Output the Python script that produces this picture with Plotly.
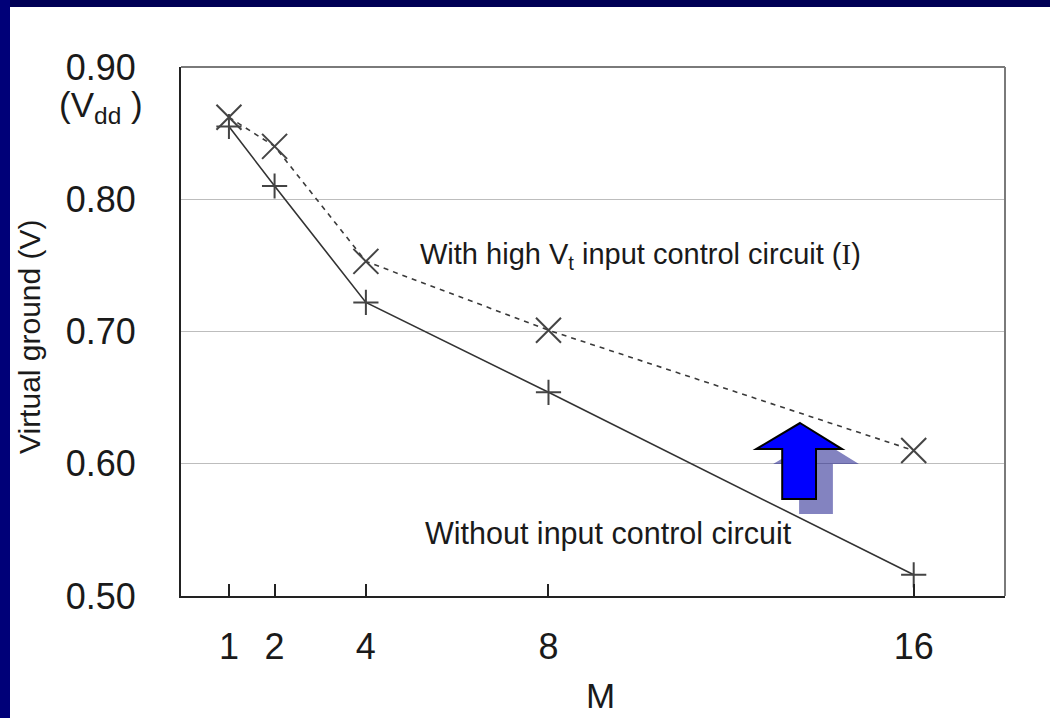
import plotly.graph_objects as go

# ---- data ----
m_values = [1, 2, 4, 8, 16]
without_ctrl = [0.855, 0.810, 0.722, 0.654, 0.516]
with_ctrl = [0.862, 0.840, 0.753, 0.701, 0.610]
x_tick_vals = [1, 2, 4, 8, 16]
x_tick_text = ["1", "2", "4", "8", "16"]
y_tick_vals = [0.5, 0.6, 0.7, 0.8, 0.9]
y_tick_text = ["0.50", "0.60", "0.70", "0.80", "0.90"]

W, H = 1050, 718
ML, MR, MT, MB = 181, 45, 67, 122
PW, PH = W - ML - MR, H - MT - MB


def px(xp):
    return (xp - ML) / PW


def py(yp):
    return (H - MB - yp) / PH


fig = go.Figure()

fig.add_trace(go.Scatter(
    x=m_values, y=with_ctrl, mode="lines+markers",
    line=dict(color="#3a3a3a", width=1.6, dash="5px,5px"),
    marker=dict(symbol="x-thin", size=25, line=dict(color="#444444", width=2)),
    showlegend=False, hoverinfo="skip"))
fig.add_trace(go.Scatter(
    x=m_values, y=without_ctrl, mode="lines+markers",
    line=dict(color="#333333", width=1.6),
    marker=dict(symbol="cross-thin", size=18, line=dict(color="#444444", width=2)),
    showlegend=False, hoverinfo="skip"))

font_main = "Arial, Liberation Sans, sans-serif"

fig.update_layout(
    width=W, height=H,
    margin=dict(l=ML, r=MR, t=MT, b=MB, pad=0),
    paper_bgcolor="white", plot_bgcolor="white",
    font=dict(family=font_main, color="#1a1a1a"),
    xaxis=dict(range=[-0.05, 18.0], tickvals=x_tick_vals, ticktext=x_tick_text,
               ticks="inside", ticklen=12, tickwidth=2, tickcolor="#222",
               showline=True, linecolor="#222", linewidth=2, mirror=False,
               showgrid=False, zeroline=False,
               tickfont=dict(size=36, family=font_main, color="#1a1a1a"),
               ticklabelstandoff=18),
    yaxis=dict(range=[0.5, 0.9], tickvals=y_tick_vals, ticktext=y_tick_text,
               ticks="", showline=True, linecolor="#222", linewidth=2, mirror=False,
               showgrid=True, gridcolor="#bdbdbd", gridwidth=1.2, zeroline=False,
               tickfont=dict(size=36, family=font_main, color="#1a1a1a"),
               ticklabelstandoff=36),
)

shapes = []
# navy slide borders
shapes.append(dict(type="rect", xref="paper", yref="paper",
                   x0=px(0), x1=px(W), y0=py(7), y1=py(0),
                   fillcolor="#000055", line=dict(width=0), layer="above"))
shapes.append(dict(type="rect", xref="paper", yref="paper",
                   x0=px(0), x1=px(10), y0=py(H), y1=py(0),
                   fillcolor="#000078", line=dict(width=0), layer="above"))
# top / right frame in gray
shapes.append(dict(type="line", xref="paper", yref="paper", x0=0, x1=1, y0=1, y1=1,
                   line=dict(color="#7a7a7a", width=2), layer="above"))
shapes.append(dict(type="line", xref="paper", yref="paper", x0=1, x1=1, y0=0, y1=1,
                   line=dict(color="#7a7a7a", width=2), layer="above"))

# up arrow (decoration) in data coordinates
tip_x, tip_y = 13.51, 0.6308
head_l, head_r, head_y = 12.55, 14.43, 0.6111
shaft_l, shaft_r, shaft_y = 13.12, 13.86, 0.5733
sdx, sdy = 0.37, -0.0113


def arrow_path(dx, dy):
    pts = [(tip_x, tip_y), (head_r, head_y), (shaft_r, head_y), (shaft_r, shaft_y),
           (shaft_l, shaft_y), (shaft_l, head_y), (head_l, head_y)]
    return "M " + " L ".join(f"{x + dx},{y + dy}" for x, y in pts) + " Z"


shapes.append(dict(type="path", xref="x", yref="y", path=arrow_path(sdx, sdy),
                   fillcolor="rgba(30,30,140,0.55)", line=dict(width=0), layer="above"))
shapes.append(dict(type="path", xref="x", yref="y", path=arrow_path(0, 0),
                   fillcolor="#0000ff", line=dict(color="black", width=2), layer="above"))
fig.update_layout(shapes=shapes)

fig.add_annotation(x=5.14, y=0.757, xref="x", yref="y", xanchor="left", yanchor="middle",
                   text="With high V<sub>t</sub> input control circuit "
                        "(<span style='font-family:Times New Roman, Liberation Serif, serif'>I</span>)",
                   showarrow=False, font=dict(size=29, family=font_main, color="#1a1a1a"))
fig.add_annotation(x=5.25, y=0.5476, xref="x", yref="y", xanchor="left", yanchor="middle",
                   text="Without input control circuit", showarrow=False,
                   font=dict(size=30.5, family=font_main, color="#1a1a1a"))
fig.add_annotation(x=px(145), y=py(107), xref="paper", yref="paper", xanchor="right",
                   yanchor="middle", text="(V<sub>dd</sub> )", showarrow=False,
                   font=dict(size=35, family=font_main, color="#1a1a1a"))
fig.add_annotation(x=px(29), y=py(337), xref="paper", yref="paper", xanchor="center",
                   yanchor="middle", text="Virtual ground (V)", textangle=-90,
                   showarrow=False, font=dict(size=30, family=font_main, color="#1a1a1a"))
fig.add_annotation(x=px(600), y=py(717), xref="paper", yref="paper", xanchor="center",
                   yanchor="bottom", text="M", showarrow=False,
                   font=dict(size=35, family=font_main, color="#1a1a1a"))

fig.write_html("out.html")
